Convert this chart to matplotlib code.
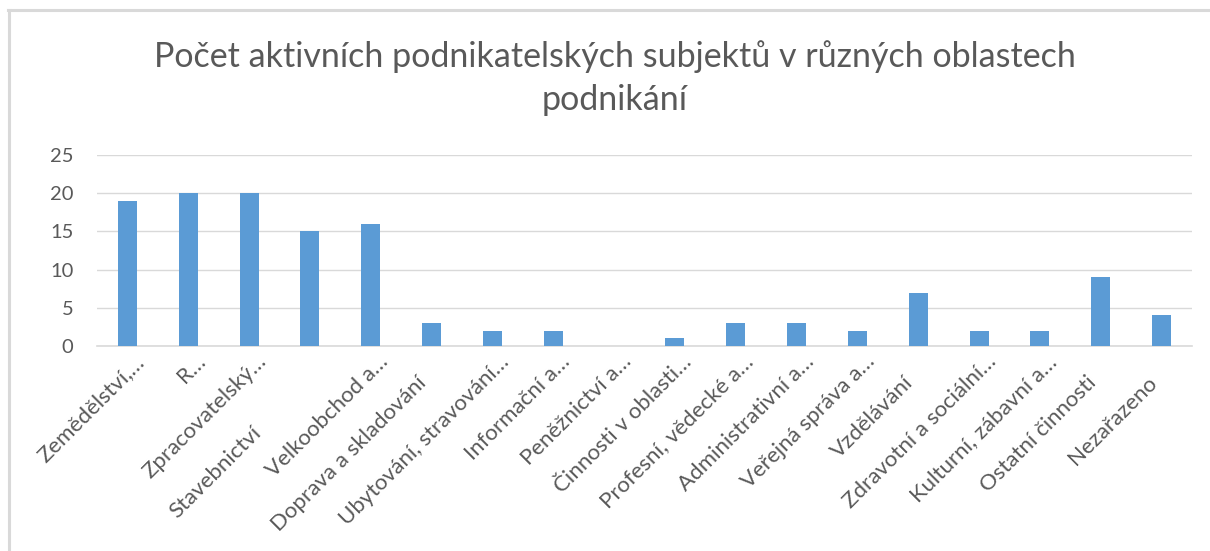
import matplotlib
matplotlib.use("Agg")
import matplotlib.pyplot as plt
from matplotlib.lines import Line2D
from matplotlib.transforms import ScaledTranslation

categories = ["Zemědělství,…", "R…", "Zpracovatelský…", "Stavebnictví", "Velkoobchod a…",
              "Doprava a skladování", "Ubytování, stravování…", "Informační a…", "Peněžnictví a…",
              "Činnosti v oblasti…", "Profesní, vědecké a…", "Administrativní a…", "Veřejná správa a…",
              "Vzdělávání", "Zdravotní a sociální…", "Kulturní, zábavní a…", "Ostatní činnosti", "Nezařazeno"]
values = [19, 20, 20, 15, 16, 3, 2, 2, 0, 1, 3, 3, 2, 7, 2, 2, 9, 4]
yticks = [0, 5, 10, 15, 20, 25]
title = "Počet aktivních podnikatelských subjektů v různých oblastech\npodnikání"

plt.rcParams['font.family'] = ['Lato', 'DejaVu Sans']
txt = '#595959'

fig = plt.figure(figsize=(12.1, 5.51), dpi=100)
ax = fig.add_axes([97/1210, 1-346/551, (1192-97)/1210, (346-155)/551])

x = list(range(len(categories)))
ax.bar(x, values, width=0.31, color='#5b9bd5', zorder=3)
ax.set_xlim(-0.5, len(categories)-0.5)
ax.set_ylim(0, 25)
ax.set_yticks(yticks)
ax.set_yticklabels([str(v) for v in yticks], fontsize=14.5, color=txt)
ax.yaxis.grid(True, color='#d9d9d9', linewidth=1, zorder=0)
ax.set_axisbelow(True)
for s in ['left', 'right', 'top']:
    ax.spines[s].set_visible(False)
ax.spines['bottom'].set_color('#d9d9d9')
ax.spines['bottom'].set_linewidth(1.2)
ax.tick_params(axis='both', length=0)
ax.tick_params(axis='y', pad=17)
ax.set_xticks(x)
ax.set_xticklabels(categories, rotation=45, ha='right', va='center', rotation_mode='anchor',
                   fontsize=16, color=txt)
ax.tick_params(axis='x', pad=4)
for lbl in ax.get_xticklabels():
    t = lbl.get_text()
    if t.endswith('…'):
        dx, dy = 14, -7
    elif t == "Stavebnictví":
        dx, dy = -52, -78
    else:
        dx, dy = -8, -28
    off = ScaledTranslation(dx/100, dy/100, fig.dpi_scale_trans)
    lbl.set_transform(lbl.get_transform() + off)

fig.text(615/1210, 1-78/551, title, ha='center', va='center', fontsize=24.5, color=txt,
         linespacing=1.45)

# chart border
fig.add_artist(Line2D([9/1210, 9/1210], [0, 1-10/551], transform=fig.transFigure, color='#d9d9d9', linewidth=2.2))
fig.add_artist(Line2D([8/1210, 1], [1-10/551, 1-10/551], transform=fig.transFigure, color='#d9d9d9', linewidth=2.2))

fig.savefig('out.png', dpi=100)
